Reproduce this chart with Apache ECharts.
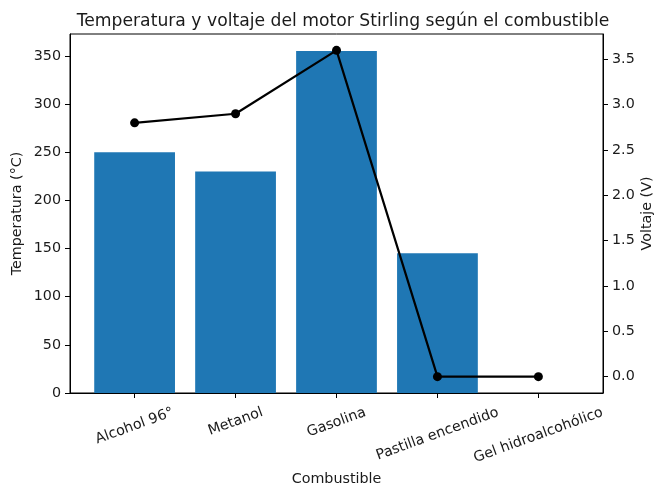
<!DOCTYPE html>
<html>
<head>
<meta charset="utf-8">
<script src="https://cdn.jsdelivr.net/npm/echarts@6/dist/echarts.min.js"></script>
<style>html,body{margin:0;padding:0;background:#fff}#c{width:655px;height:487px}</style>
</head>
<body>
<div id="c"></div>
<script>
const categories = ['Alcohol 96°', 'Metanol', 'Gasolina', 'Pastilla encendido', 'Gel hidroalcohólico'];
const temperatura = [250, 230, 355, 145, 0];
const voltaje = [2.8, 2.9, 3.6, 0, 0];
const tempTicks = [0, 50, 100, 150, 200, 250, 300, 350];
const voltTicks = [0, 0.5, 1.0, 1.5, 2.0, 2.5, 3.0, 3.5];

const FONT = 'DejaVu Sans';
const FS = 14.3;
const ANG = 20 * Math.PI / 180;

// per-label padding so the rotated label is centred under its tick like matplotlib
const cv = document.createElement('canvas').getContext('2d');
cv.font = FS + 'px "' + FONT + '"';
const rich = {};
categories.forEach((c, i) => {
  const L = cv.measureText(c).width;
  rich['l' + i] = {
    fontFamily: FONT, fontSize: FS, color: '#1a1a1a',
    padding: [L * Math.sin(ANG) * Math.cos(ANG), L * Math.sin(ANG) * Math.sin(ANG), 0, 0]
  };
});

const chart = echarts.init(document.getElementById('c'), null, {renderer: 'canvas'});
const axisLine = {show: true, onZero: false, lineStyle: {color: '#000', width: 1}};
const axisTick = {show: true, length: 5, inside: false, lineStyle: {color: '#000', width: 1}};
const txt = {fontFamily: FONT, fontSize: FS, color: '#1a1a1a'};
chart.setOption({
  animation: false,
  backgroundColor: '#fff',
  title: {
    text: 'Temperatura y voltaje del motor Stirling según el combustible',
    left: 338, top: 8, textAlign: 'center',
    textStyle: {fontFamily: FONT, fontSize: 17.2, fontWeight: 'normal', color: '#1a1a1a'}
  },
  grid: {left: 70, right: 52, top: 34, bottom: 94, outerBoundsMode: 'none', containLabel: false,
    show: true, borderColor: '#000', borderWidth: 1, backgroundColor: 'transparent'},
  xAxis: {
    type: 'value', min: -0.64, max: 4.64,
    name: 'Combustible', nameLocation: 'middle', nameGap: 79,
    nameTextStyle: txt,
    axisLine: axisLine,
    axisTick: Object.assign({customValues: categories.map((c, i) => i)}, axisTick),
    splitLine: {show: false},
    axisLabel: Object.assign({
      customValues: categories.map((c, i) => i),
      rotate: 20, align: 'center', verticalAlign: 'middle', margin: 19,
      hideOverlap: false,
      formatter: v => { const i = Math.round(v); return '{l' + i + '|' + categories[i] + '}'; },
      rich: rich
    }, txt)
  },
  yAxis: [{
    type: 'value', min: 0, max: 372.75, position: 'left',
    name: 'Temperatura (°C)', nameLocation: 'middle', nameGap: 46, nameRotate: 90,
    nameMoveOverlap: false,
    nameTextStyle: txt,
    axisLine: axisLine,
    axisTick: Object.assign({customValues: tempTicks}, axisTick),
    splitLine: {show: false},
    axisLabel: Object.assign({customValues: tempTicks, margin: 9}, txt)
  }, {
    type: 'value', min: -0.18, max: 3.78, position: 'right',
    name: 'Voltaje (V)', nameLocation: 'middle', nameGap: 37, nameRotate: 90,
    nameMoveOverlap: false,
    nameTextStyle: txt,
    axisLine: axisLine,
    axisTick: Object.assign({customValues: voltTicks}, axisTick),
    splitLine: {show: false},
    axisLabel: Object.assign({customValues: voltTicks, margin: 9, formatter: v => v.toFixed(1)}, txt)
  }],
  series: [{
    type: 'bar', xAxisIndex: 0, yAxisIndex: 0,
    data: temperatura.map((v, i) => [i, v]),
    barWidth: '80%',
    itemStyle: {color: '#1f77b4'}
  }, {
    type: 'line', xAxisIndex: 0, yAxisIndex: 1,
    data: voltaje.map((v, i) => [i, v]),
    symbol: 'circle', symbolSize: 9,
    lineStyle: {color: '#000', width: 2.2},
    itemStyle: {color: '#000'},
    z: 5
  }]
});
</script>
</body>
</html>
